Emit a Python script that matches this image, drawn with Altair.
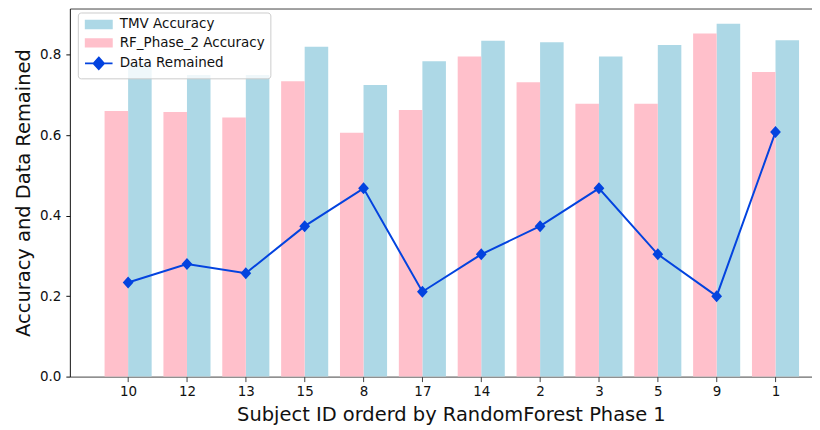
import altair as alt
import pandas as pd

subjects = ["10", "12", "13", "15", "8", "17", "14", "2", "3", "5", "9", "1"]
tmv_acc = [0.780, 0.750, 0.750, 0.820, 0.725, 0.784, 0.835, 0.831, 0.796, 0.824, 0.877, 0.836]
rf_acc = [0.660, 0.658, 0.644, 0.734, 0.606, 0.663, 0.796, 0.732, 0.678, 0.678, 0.853, 0.757]
remained = [0.234, 0.280, 0.257, 0.374, 0.468, 0.211, 0.304, 0.374, 0.468, 0.304, 0.200, 0.608]

S_TMV = "TMV Accuracy"
S_RF = "RF_Phase_2 Accuracy"
S_DR = "Data Remained"

bars = pd.DataFrame(
    [{"idx": i, "subject": s, "series": S_TMV, "value": v} for i, (s, v) in enumerate(zip(subjects, tmv_acc))]
    + [{"idx": i, "subject": s, "series": S_RF, "value": v} for i, (s, v) in enumerate(zip(subjects, rf_acc))]
)
line = pd.DataFrame({"idx": list(range(len(subjects))), "subject": subjects,
                     "series": [S_DR] * len(subjects), "value": remained})

FONT = "DejaVu Sans"
BLUE = "#0343df"
DOMAIN = [S_TMV, S_RF, S_DR]
COLORS = ["#add8e6", "#ffc0cb", BLUE]
RECT = "M-2.2,-0.65L2.2,-0.65L2.2,0.65L-2.2,0.65Z"
LINE_DIAMOND = "M-2.3,0L2.3,0M0,-1.0L0.9,0L0,1.0L-0.9,0Z"

fill_scale = alt.Scale(domain=DOMAIN, range=COLORS)
stroke_scale = alt.Scale(domain=DOMAIN, range=COLORS)
shape_scale = alt.Scale(domain=DOMAIN, range=[RECT, RECT, LINE_DIAMOND])
xscale = alt.Scale(domain=[-0.99, 11.62], nice=False, zero=False)
yscale = alt.Scale(domain=[0, 0.915], nice=False)

label_expr = "[" + ",".join("'%s'" % s for s in subjects) + "][datum.value]"

legend = alt.Legend(
    title=None,
    orient="none",
    legendX=8,
    legendY=4,
    fillColor="rgba(255,255,255,0.8)",
    strokeColor="#cccccc",
    cornerRadius=3,
    padding=5,
    labelFont=FONT,
    labelFontSize=13.5,
    labelColor="#111111",
    labelOffset=14,
    rowPadding=2.5,
    symbolSize=144,
    symbolOffset=9,
    symbolStrokeWidth=1.6,
    symbolOpacity=1,
)

bar_layer = (
    alt.Chart(bars)
    .transform_calculate(
        x0="datum.idx + (datum.series === '%s' ? -0.4 : 0)" % S_RF,
        x1="datum.idx + (datum.series === '%s' ? 0 : 0.4)" % S_RF,
    )
    .mark_bar()
    .encode(
        x=alt.X(
            "x0:Q",
            scale=xscale,
            axis=alt.Axis(
                values=list(range(len(subjects))),
                labelExpr=label_expr,
                title="Subject ID orderd by RandomForest Phase 1",
                titleX=382,
                grid=False,
                domainColor="#444444",
                tickColor="#444444",
                tickSize=5,
                labelPadding=3,
                labelFont=FONT,
                labelFontSize=13.5,
                labelColor="#111111",
                titleFont=FONT,
                titleFontSize=19.5,
                titleFontWeight="normal",
                titleColor="#111111",
                titlePadding=8,
            ),
        ),
        x2="x1:Q",
        y=alt.Y(
            "value:Q",
            scale=yscale,
            axis=alt.Axis(
                values=[0, 0.2, 0.4, 0.6, 0.8],
                format=".1f",
                title="Accuracy and Data Remained",
                grid=False,
                domainColor="#111111",
                tickColor="#111111",
                tickSize=4,
                labelPadding=5,
                labelFont=FONT,
                labelFontSize=13.5,
                labelColor="#111111",
                titleFont=FONT,
                titleFontSize=19.5,
                titleFontWeight="normal",
                titleColor="#111111",
                titlePadding=6,
            ),
        ),
        y2=alt.datum(0),
        fill=alt.Fill("series:N", scale=fill_scale, legend=legend),
    )
)

line_layer = (
    alt.Chart(line)
    .mark_line(strokeWidth=2)
    .encode(
        x=alt.X(
            "idx:Q",
            scale=xscale,
            axis=alt.Axis(orient="top", labels=False, ticks=False, title=None, grid=False, domainColor="#444444"),
        ),
        y=alt.Y("value:Q", scale=yscale),
        stroke=alt.Stroke("series:N", scale=stroke_scale, legend=legend),
    )
)

point_layer = (
    alt.Chart(line)
    .mark_point(filled=True, size=144, opacity=1, strokeWidth=0)
    .encode(
        x=alt.X("idx:Q", scale=xscale, axis=None),
        y=alt.Y("value:Q", scale=yscale),
        fill=alt.Fill("series:N", scale=fill_scale, legend=legend),
        stroke=alt.Stroke("series:N", scale=stroke_scale, legend=legend),
        shape=alt.Shape("series:N", scale=shape_scale, legend=legend),
    )
)

chart = (
    alt.layer(bar_layer, line_layer, point_layer)
    .resolve_axis(x="independent")
    .properties(width=744, height=369, padding={"left": 5, "top": 0, "right": 0, "bottom": 0})
    .configure_view(stroke=None)
)

chart.save("out.html", embed_options={"renderer": "svg", "actions": False})
